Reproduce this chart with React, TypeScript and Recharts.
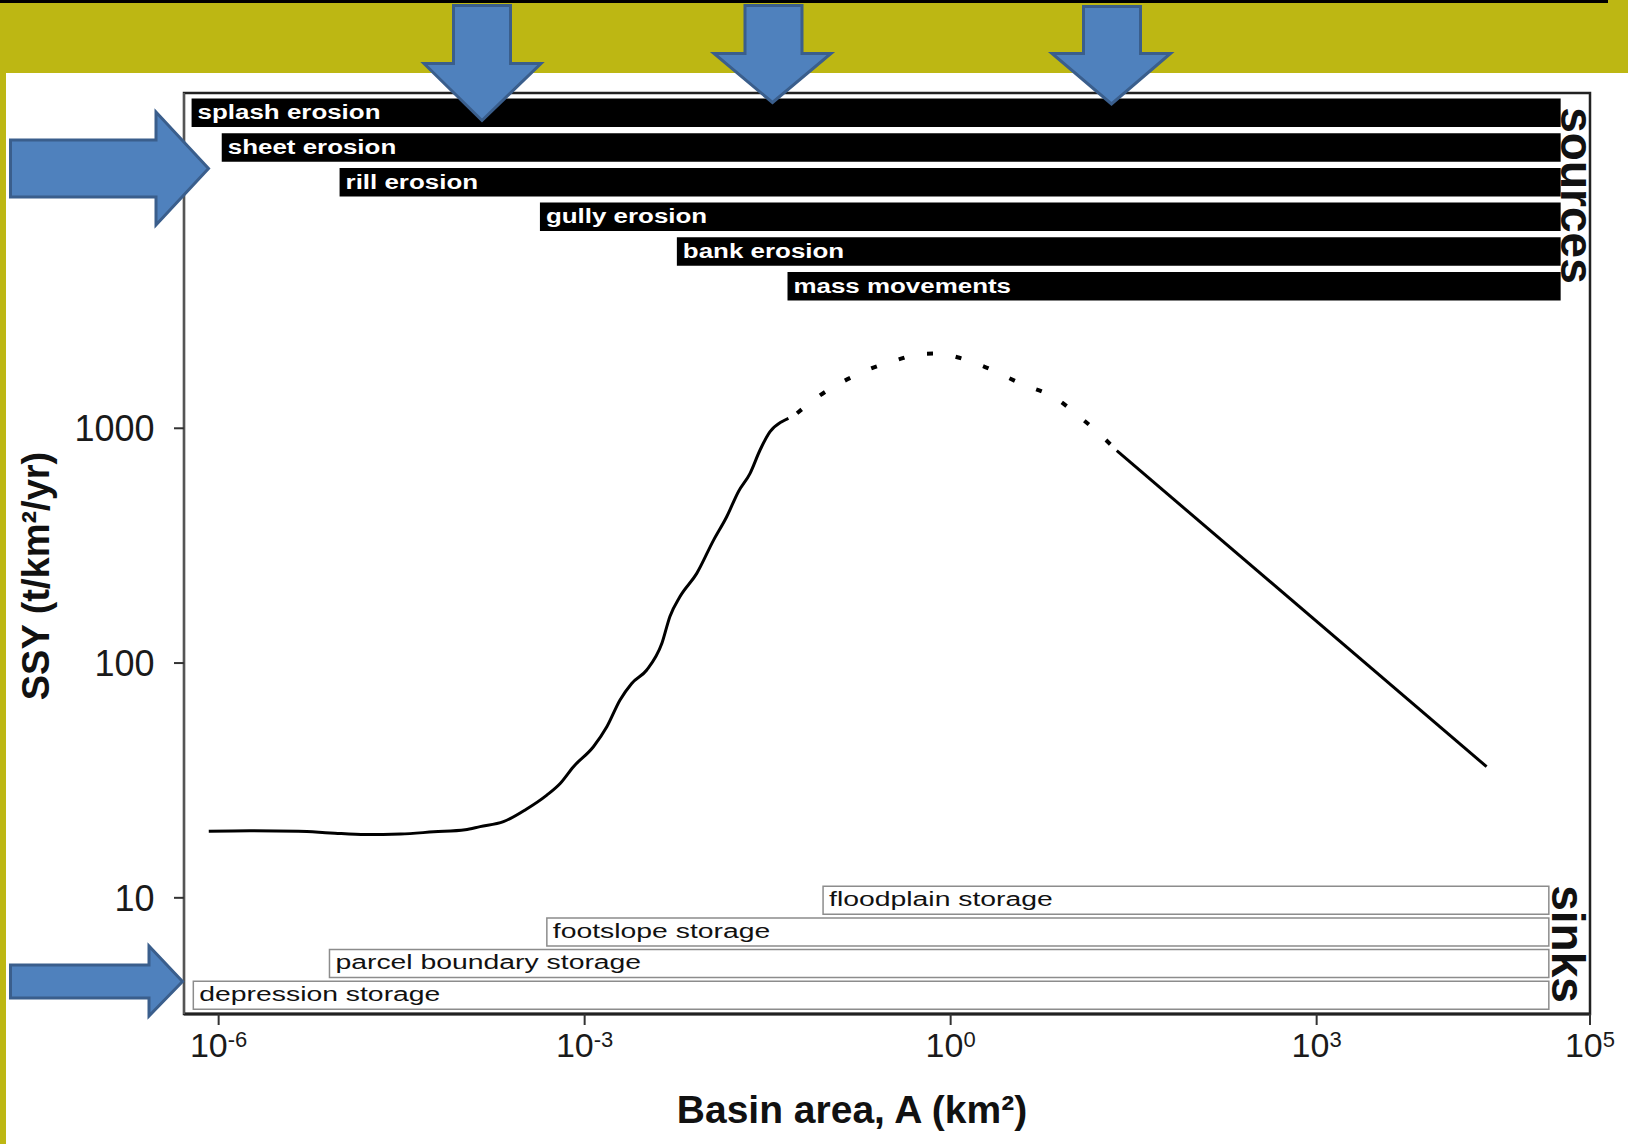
import React from "react";
import { ComposedChart, BarChart, Bar, Line, XAxis, YAxis, LabelList, ReferenceArea } from "recharts";

const FONT = '"Liberation Sans", Arial, Helvetica, sans-serif';

// SSY curve: basin area A (km²) -> SSY (t/km²/yr)
const risingArea = [
  8.3e-7, 1.8e-6, 4.5e-6, 8.2e-6, 1.6e-5, 3.1e-5, 5.8e-5, 1.05e-4, 1.39e-4, 2.16e-4,
  3.3e-4, 4.9e-4, 6.3e-4, 8.1e-4, 1.18e-3, 1.52e-3, 1.95e-3, 2.43e-3, 3.23e-3, 4.29e-3,
  5.0e-3, 6.05e-3, 8.3e-3, 1.14e-2, 1.46e-2, 1.82e-2, 2.27e-2, 2.74e-2, 3.31e-2, 4.13e-2,
  4.68e-2,
];
const risingSsy = [
  19.2, 19.3, 19.2, 18.9, 18.6, 18.7, 19.1, 19.5, 20.1, 21.1,
  23.8, 27.4, 30.7, 36.2, 44, 53.5, 69.6, 81.9, 93.4, 121,
  158, 192, 241, 334, 420, 537, 643, 808, 967, 1067,
  1103,
];
const peakArea = [0.0551, 0.0818, 0.131, 0.218, 0.344, 0.571, 0.818, 1.135, 1.94, 3.71, 7.41, 11.1, 16.4, 23.0];
const peakSsy = [1159, 1363, 1580, 1789, 1936, 2073, 2083, 2007, 1819, 1555, 1333, 1132, 952, 803];
const fallingArea = [23.0, 24700];
const fallingSsy = [803, 36.2];

// sediment sources and sinks: area range over which each process acts
const sourceNames = ["splash erosion", "sheet erosion", "rill erosion", "gully erosion", "bank erosion", "mass movements"];
const sourceFrom = [6.0e-7, 1.06e-6, 9.8e-6, 4.3e-4, 5.7e-3, 4.6e-2];
const sourceTo = [1e5, 1e5, 1e5, 1e5, 1e5, 1e5];
const sinkNames = ["floodplain storage", "footslope storage", "parcel boundary storage", "depression storage"];
const sinkFrom = [0.09, 4.9e-4, 8.1e-6, 6.2e-7];
const sinkTo = [8e4, 8e4, 8e4, 8e4];

const X_DOMAIN = [5.2e-7, 1.74e5];
const Y_DOMAIN = [3.2, 26800];
const xTickValues = [1e-6, 1e-3, 1, 1e3, 1.74e5];
const xTickExponents = ["-6", "-3", "0", "3", "5"];
const yTickValues = [10, 100, 1000];

const series = (area: number[], ssy: number[]) => area.map((a, i) => ({ area: a, ssy: ssy[i] }));
const rising = series(risingArea, risingSsy);
const peak = series(peakArea, peakSsy);
const falling = series(fallingArea, fallingSsy);

const sources = sourceNames.map((name, i) => ({ name, range: [sourceFrom[i], sourceTo[i]] }));
const sinks = sinkNames.map((name, i) => ({ name, range: [sinkFrom[i], sinkTo[i]] }));

const XTick = (props: any) => {
  const { x, y, payload } = props;
  const i = xTickValues.indexOf(payload.value);
  return (
    <text x={x} y={y + 32} textAnchor="middle" fontFamily={FONT} fill="#1a1a1a">
      <tspan fontSize={34}>10</tspan>
      <tspan fontSize={22} dy={-10}>{xTickExponents[i]}</tspan>
    </text>
  );
};

const SourceLabel = (props: any) => {
  const x = Number(props.x), y = Number(props.y), h = Number(props.height);
  return (
    <g transform={`translate(${x + 6},${y + h / 2 + 6.5}) scale(1.235,1)`}>
      <text x={0} y={0} fill="#fff" fontSize={21} fontWeight="bold" fontFamily={FONT}>{props.value}</text>
    </g>
  );
};

const SinkLabel = (props: any) => {
  const x = Number(props.x), y = Number(props.y), h = Number(props.height);
  return (
    <g transform={`translate(${x + 6},${y + h / 2 + 5.7}) scale(1.35,1)`}>
      <text x={0} y={0} fill="#111" fontSize={21} fontFamily={FONT}>{props.value}</text>
    </g>
  );
};

const ARROW_FILL = "#4F81BD";
const ARROW_EDGE = "#3A5E8C";

const downArrow = (sl: number, sr: number, top: number, hy: number, hl: number, hr: number, tx: number, ty: number) =>
  `${sl},${top} ${sr},${top} ${sr},${hy} ${hr},${hy} ${tx},${ty} ${hl},${hy} ${sl},${hy}`;
const rightArrow = (left: number, st: number, sb: number, hx: number, ht: number, hb: number, tx: number, ty: number) =>
  `${left},${st} ${hx},${st} ${hx},${ht} ${tx},${ty} ${hx},${hb} ${hx},${sb} ${left},${sb}`;

const layer: React.CSSProperties = { position: "absolute", left: 0, top: 0 };

export default function App() {
  return (
    <div style={{ position: "absolute", left: 0, top: 0, width: 1628, height: 1144, background: "#BDB713", overflow: "hidden" }}>
      <div style={{ position: "absolute", left: 0, top: 0, width: 1608, height: 3, background: "#000" }} />
      <div style={{ position: "absolute", left: 6, top: 73, width: 1622, height: 1071, background: "#fff" }} />

      <div style={layer}>
        <ComposedChart width={1628} height={1144} margin={{ top: 93, right: 38, bottom: 70, left: 74 }}>
          <XAxis
            type="number"
            dataKey="area"
            scale="log"
            domain={X_DOMAIN}
            allowDataOverflow
            ticks={xTickValues}
            interval={0}
            tick={<XTick />}
            tickSize={11}
            tickMargin={0}
            tickLine={{ stroke: "#333", strokeWidth: 2 }}
            axisLine={{ stroke: "#222", strokeWidth: 3 }}
            height={60}
          />
          <YAxis
            type="number"
            scale="log"
            domain={Y_DOMAIN}
            allowDataOverflow
            ticks={yTickValues}
            interval={0}
            width={110}
            tickSize={10}
            tickMargin={19.5}
            tick={{ fontSize: 36, fill: "#1a1a1a", fontFamily: FONT }}
            tickLine={{ stroke: "#333", strokeWidth: 2 }}
            axisLine={{ stroke: "#555", strokeWidth: 2 }}
          />
          {/* plot frame */}
          <ReferenceArea
            x1={X_DOMAIN[0]}
            x2={X_DOMAIN[1]}
            y1={Y_DOMAIN[0]}
            y2={Y_DOMAIN[1]}
            fill="none"
            fillOpacity={0}
            stroke="#222"
            strokeWidth={2.5}
            strokeOpacity={1}
            ifOverflow="visible"
          />
          <Line data={rising} dataKey="ssy" type="monotone" stroke="#000" strokeWidth={3} dot={false} isAnimationActive={false} />
          <Line data={peak} dataKey="ssy" type="monotone" stroke="#000" strokeWidth={4} strokeDasharray="6 23" dot={false} isAnimationActive={false} />
          <Line data={falling} dataKey="ssy" type="linear" stroke="#000" strokeWidth={3} dot={false} isAnimationActive={false} />
        </ComposedChart>
      </div>

      <div style={layer}>
        <BarChart layout="vertical" width={1628} height={304} data={sources} margin={{ top: 95.6, right: 38, left: 184, bottom: 0.4 }}>
          <XAxis type="number" scale="log" domain={X_DOMAIN} allowDataOverflow hide />
          <YAxis type="category" dataKey="name" hide />
          <Bar dataKey="range" fill="#000" barSize={28.5} isAnimationActive={false}>
            <LabelList dataKey="name" content={SourceLabel} />
          </Bar>
        </BarChart>
      </div>

      <div style={layer}>
        <BarChart layout="vertical" width={1628} height={1011} data={sinks} margin={{ top: 884.2, right: 38, left: 184, bottom: 0.1 }}>
          <XAxis type="number" scale="log" domain={X_DOMAIN} allowDataOverflow hide />
          <YAxis type="category" dataKey="name" hide />
          <Bar dataKey="range" fill="#fff" stroke="#8c8c8c" strokeWidth={1.5} barSize={28} isAnimationActive={false}>
            <LabelList dataKey="name" content={SinkLabel} />
          </Bar>
        </BarChart>
      </div>

      <svg width={1628} height={1144} style={{ ...layer, pointerEvents: "none" }}>
        <text x={852} y={1123} textAnchor="middle" fontFamily={FONT} fontSize={39} fontWeight="bold" fill="#111">
          Basin area, A (km²)
        </text>
        <text x={49} y={576} transform="rotate(-90, 49, 576)" textAnchor="middle" fontFamily={FONT} fontSize={38} fontWeight="bold" fill="#111">
          SSY (t/km²/yr)
        </text>
        <text x={1561} y={195.5} transform="rotate(90, 1561, 195.5)" textAnchor="middle" fontFamily={FONT} fontSize={46} fontWeight="bold" fill="#111">
          sources
        </text>
        <text x={1552} y={944} transform="rotate(90, 1552, 944)" textAnchor="middle" fontFamily={FONT} fontSize={46} fontWeight="bold" fill="#111">
          sinks
        </text>
        <g fill={ARROW_FILL} stroke={ARROW_EDGE} strokeWidth={3} strokeLinejoin="miter">
          <polygon points={downArrow(453.5, 510.5, 5.5, 63.5, 424, 541, 482, 120.5)} />
          <polygon points={downArrow(745, 802, 5.5, 53.5, 714, 831, 772.5, 102.5)} />
          <polygon points={downArrow(1083.5, 1140.5, 6.5, 53.5, 1052, 1170.5, 1111.5, 104)} />
          <polygon points={rightArrow(10.5, 140, 197, 156, 112, 225, 208.5, 168.5)} />
          <polygon points={rightArrow(10.5, 965, 998, 149, 946, 1016, 182.5, 981.5)} />
        </g>
      </svg>
    </div>
  );
}
